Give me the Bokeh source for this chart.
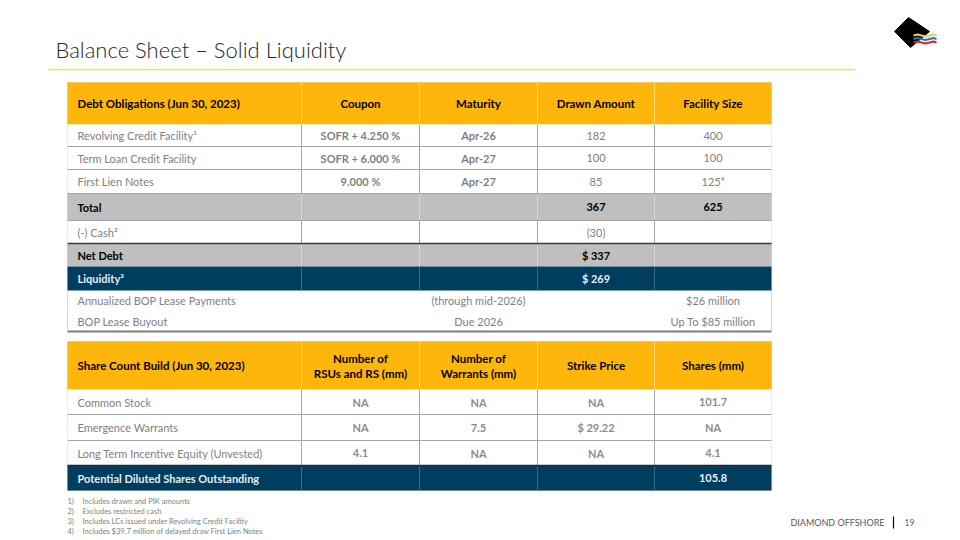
from bokeh.plotting import figure
from bokeh.models import Range1d, ColumnDataSource
from bokeh.core.properties import value
from bokeh.embed import file_html
from bokeh.resources import INLINE

# ---------------- data ----------------
title = "Balance Sheet – Solid Liquidity"

debt_headers = ["Debt Obligations (Jun 30, 2023)", "Coupon", "Maturity", "Drawn Amount", "Facility Size"]
debt_labels = ["Revolving Credit Facility¹", "Term Loan Credit Facility", "First Lien Notes",
               "Total", "(-) Cash²", "Net Debt", "Liquidity³"]
debt_coupon = ["SOFR + 4.250 %", "SOFR + 6.000 %", "9.000 %", "", "", "", ""]
debt_maturity = ["Apr-26", "Apr-27", "Apr-27", "", "", "", ""]
debt_drawn = ["182", "100", "85", "367", "(30)", "$ 337", "$ 269"]
debt_facility = ["400", "100", "125⁴", "625", "", "", ""]
debt_kind = ["plain", "plain", "plain", "total", "plain", "total", "liquidity"]

lease_items = ["Annualized BOP Lease Payments", "BOP Lease Buyout"]
lease_terms = ["(through mid-2026)", "Due 2026"]
lease_amounts = ["$26 million", "Up To $85 million"]

share_headers = ["Share Count Build (Jun 30, 2023)", "Number of\nRSUs and RS (mm)",
                 "Number of\nWarrants (mm)", "Strike Price", "Shares (mm)"]
share_labels = ["Common Stock", "Emergence Warrants", "Long Term Incentive Equity (Unvested)",
                "Potential Diluted Shares Outstanding"]
share_rsus = ["NA", "NA", "4.1", ""]
share_warrants = ["NA", "7.5", "NA", ""]
share_strike = ["NA", "$ 29.22", "NA", ""]
share_shares = ["101.7", "NA", "4.1", "105.8"]
share_kind = ["plain", "plain", "plain", "liquidity"]

footnote_nums = ["1)", "2)", "3)", "4)"]
footnotes = ["Includes drawn and PIK amounts", "Excludes restricted cash",
             "Includes LCs issued under Revolving Credit Facility",
             "Includes $39.7 million of delayed draw First Lien Notes"]
company = "DIAMOND OFFSHORE"
page_no = "19"

# ---------------- layout / style ----------------
FONT = "Lato"
LIGHT_FONT = "'Lato Light', Lato"
AMBER = "#FFB60B"
NAVY = "#003E5F"
GRAYROW = "#BFBFBF"
TXT = "#7F7F7F"
COLS = [67, 301, 419, 537, 654, 771]
T1_ROWS = [82, 124, 146, 169, 193, 220, 243, 266, 290]
LEASE_ROWS = [290, 310, 331]
T2_ROWS = [341, 389, 414, 440, 465, 490]
BODY = "11px"
HEAD = "11.5px"

W, H = 960, 540
p = figure(width=W, height=H, x_range=Range1d(0, W), y_range=Range1d(H, 0),
           output_backend="svg", toolbar_location=None, min_border=0,
           x_axis_location=None, y_axis_location=None)
p.grid.visible = False
p.outline_line_color = None
p.background_fill_color = "white"
p.border_fill_color = "white"

fills = {"plain": "white", "total": GRAYROW, "liquidity": NAVY, "header": AMBER}
seps = {"plain": "#A6A6A6", "total": "#D6D6D6", "liquidity": "#3F6B86", "header": "#FFD67A"}

quad = dict(left=[], right=[], top=[], bottom=[], color=[])
vseg = dict(x0=[], y0=[], x1=[], y1=[], color=[])
hseg = dict(x0=[], y0=[], x1=[], y1=[], color=[], w=[])
txt = dict(x=[], y=[], text=[], align=[], color=[], style=[], size=[])


def add_text(x, y, t, align="center", color=TXT, style="normal", size=BODY):
    if t == "":
        return
    txt["x"].append(x); txt["y"].append(y); txt["text"].append(t)
    txt["align"].append(align); txt["color"].append(color)
    txt["style"].append(style); txt["size"].append(size)


def add_row(top, bottom, kind):
    quad["left"].append(COLS[0]); quad["right"].append(COLS[-1])
    quad["top"].append(top); quad["bottom"].append(bottom); quad["color"].append(fills[kind])
    for cx in COLS[1:-1]:
        vseg["x0"].append(cx); vseg["x1"].append(cx)
        vseg["y0"].append(top); vseg["y1"].append(bottom); vseg["color"].append(seps[kind])


def hline(y, color="#A6A6A6", w=1.0):
    hseg["x0"].append(COLS[0]); hseg["x1"].append(COLS[-1])
    hseg["y0"].append(y); hseg["y1"].append(y); hseg["color"].append(color); hseg["w"].append(w)


centers = [(COLS[i] + COLS[i + 1]) / 2 for i in range(len(COLS) - 1)]
LX = COLS[0] + 10

# ---- table 1 ----
add_row(T1_ROWS[0], T1_ROWS[1], "header")
ym = (T1_ROWS[0] + T1_ROWS[1]) / 2
for i, h in enumerate(debt_headers):
    add_text(LX if i == 0 else centers[i], ym, h, "left" if i == 0 else "center", "#000000", "bold", HEAD)

for r, kind in enumerate(debt_kind):
    top, bot = T1_ROWS[r + 1], T1_ROWS[r + 2]
    add_row(top, bot, kind)
    ym = (top + bot) / 2
    vals = [debt_labels[r], debt_coupon[r], debt_maturity[r], debt_drawn[r], debt_facility[r]]
    if kind == "plain":
        add_text(LX, ym, vals[0], "left", TXT, "normal")
        add_text(centers[1], ym, vals[1], "center", TXT, "bold")
        add_text(centers[2], ym, vals[2], "center", TXT, "bold")
        add_text(centers[3], ym, vals[3], "center", TXT, "normal")
        add_text(centers[4], ym, vals[4], "center", TXT, "normal")
    else:
        col = "#000000" if kind == "total" else "#E8EEF2"
        for i, t in enumerate(vals):
            add_text(LX if i == 0 else centers[i], ym, t, "left" if i == 0 else "center", col, "bold")

for y in T1_ROWS[2:6]:
    hline(y)
hline(T1_ROWS[6], "#3A3A3A", 1.6)  # above Net Debt

for r in range(len(lease_items)):
    ym = (LEASE_ROWS[r] + LEASE_ROWS[r + 1]) / 2
    add_text(LX, ym, lease_items[r], "left", TXT, "normal")
    add_text(centers[2], ym, lease_terms[r], "center", TXT, "normal")
    add_text(centers[4], ym, lease_amounts[r], "center", TXT, "normal")
hline(LEASE_ROWS[-1], "#7F7F7F", 2.0)

# ---- table 2 ----
add_row(T2_ROWS[0], T2_ROWS[1], "header")
ym = (T2_ROWS[0] + T2_ROWS[1]) / 2
for i, h in enumerate(share_headers):
    lines = h.split("\n")
    n = len(lines)
    for k, line in enumerate(lines):
        yy = ym + (k - (n - 1) / 2) * 15
        add_text(LX if i == 0 else centers[i], yy, line, "left" if i == 0 else "center", "#000000", "bold", HEAD)

for r, kind in enumerate(share_kind):
    top, bot = T2_ROWS[r + 1], T2_ROWS[r + 2]
    add_row(top, bot, kind)
    ym = (top + bot) / 2
    vals = [share_labels[r], share_rsus[r], share_warrants[r], share_strike[r], share_shares[r]]
    if kind == "plain":
        add_text(LX, ym, vals[0], "left", TXT, "normal")
        for i in range(1, 5):
            add_text(centers[i], ym, vals[i], "center", "#8C8C8C", "bold")
    else:
        for i in range(5):
            add_text(LX if i == 0 else centers[i], ym, vals[i], "left" if i == 0 else "center", "#E8EEF2", "bold")

for y in T2_ROWS[2:4]:
    hline(y)
hline(T2_ROWS[4], "#2A2A2A", 1.6)

# outer light frames
p.quad(left=[COLS[0], COLS[0]], right=[COLS[-1], COLS[-1]], top=[T1_ROWS[0], T2_ROWS[0]],
       bottom=[LEASE_ROWS[-1], T2_ROWS[-1]], fill_color=None, line_color="#DADADA", line_width=1)

p.quad(left="left", right="right", top="top", bottom="bottom", fill_color="color",
       line_color=None, source=ColumnDataSource(quad))
p.segment(x0="x0", y0="y0", x1="x1", y1="y1", line_color="color", line_width=1,
          source=ColumnDataSource(vseg))
p.segment(x0="x0", y0="y0", x1="x1", y1="y1", line_color="color", line_width="w",
          source=ColumnDataSource(hseg))

p.text(x="x", y="y", text="text", text_align="align", text_baseline="middle",
       text_color="color", text_font_style="style", text_font_size="size",
       text_font=value(FONT), source=ColumnDataSource(txt))

# ---- title & rule ----
p.text(x=[55], y=[49], text=[title], text_align="left", text_baseline="middle",
       text_color="#262626", text_font_size="22px", text_font=value(LIGHT_FONT))
p.segment(x0=[48], y0=[69], x1=[855], y1=[69], line_color="#FFD966", line_width=1.5)

# ---- footnotes ----
fy = [501, 511, 521, 531]
p.text(x=[67] * 4, y=fy, text=footnote_nums, text_align="left", text_baseline="middle",
       text_color="#7F7F7F", text_font_size="7.5px", text_font=value(FONT))
p.text(x=[82] * 4, y=fy, text=footnotes, text_align="left", text_baseline="middle",
       text_color="#7F7F7F", text_font_size="7.5px", text_font=value(FONT))

# ---- footer ----
p.text(x=[884], y=[522], text=[company], text_align="right", text_baseline="middle",
       text_color="#595959", text_font_size="9px", text_font=value(FONT))
p.segment(x0=[893], y0=[516], x1=[893], y1=[528], line_color="#000000", line_width=1.2)
p.text(x=[904], y=[522], text=[page_no], text_align="left", text_baseline="middle",
       text_color="#2E6DA4", text_font_size="8.5px", text_font=value(FONT))

# ---- logo ----
p.patch(x=[894, 908, 929, 910], y=[31, 17, 31, 47], fill_color="black", line_color="black")
wx = [913, 917, 921, 925, 929, 933, 936]
for dy, col in [(35, "#F2C94C"), (38.5, "#1F77C8"), (42, "#E0242B")]:
    p.line(x=wx, y=[dy, dy - 1, dy, dy + 1, dy, dy - 1, dy], line_color=col, line_width=2.2)

open("out.html", "w").write(file_html(p, INLINE))
